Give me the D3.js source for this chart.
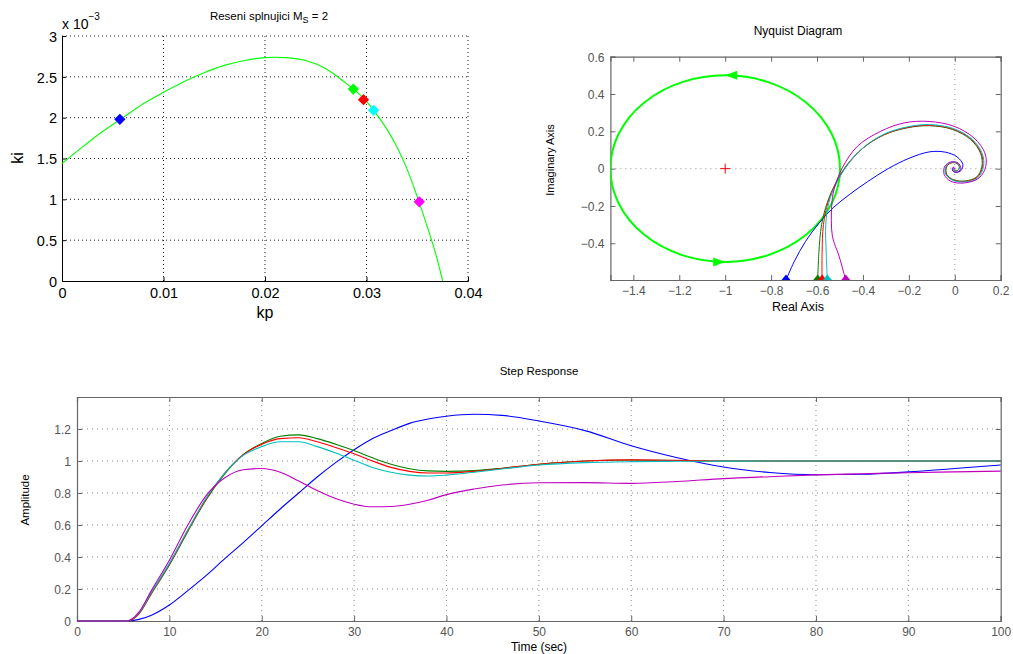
<!DOCTYPE html>
<html>
<head>
<meta charset="utf-8">
<script src="https://cdn.jsdelivr.net/npm/d3@7"></script>
<style>
body { margin: 0; background: #fff; }
text { font-family: "Liberation Sans", Arial, sans-serif; }
</style>
</head>
<body>
<script>
// ---------- data ----------
// top left: kp / ki curve (ki in units of 1e-3)
var kpCurve = [0, 0.002, 0.004, 0.006, 0.008, 0.010, 0.012, 0.014, 0.016, 0.018, 0.020, 0.021, 0.022, 0.024, 0.026, 0.028, 0.029, 0.030, 0.031, 0.032, 0.033, 0.034, 0.035, 0.036, 0.037, 0.0375];
var kiCurve = [1.44, 1.64, 1.83, 2.00, 2.17, 2.31, 2.44, 2.55, 2.64, 2.70, 2.735, 2.74, 2.735, 2.70, 2.60, 2.42, 2.32, 2.20, 2.04, 1.86, 1.64, 1.37, 1.03, 0.66, 0.25, 0];
var kpPts = [0.0057, 0.0287, 0.0297, 0.0307, 0.0352];
var kiPts = [1.98, 2.35, 2.22, 2.09, 0.97];
var ptColors = ["#0000ff", "#00ff00", "#ff0000", "#00ffff", "#ff00ff"];
var kpTicks = [0, 0.01, 0.02, 0.03, 0.04];
var kiTicks = [0, 0.5, 1, 1.5, 2, 2.5, 3];

// nyquist: [re, im]
var nyqBlue = [[-0.735, -0.597], [-0.70, -0.5], [-0.65, -0.39], [-0.59, -0.29], [-0.53, -0.21], [-0.46, -0.14], [-0.38, -0.07], [-0.29, 0.0], [-0.2, 0.055], [-0.11, 0.09], [-0.04, 0.088], [0.01, 0.063], [0.035, 0.022], [0.027, -0.01], [0.006, -0.02], [-0.01, -0.01], [-0.005, 0.005], [0, 0]];
var nyqGreen = [[-0.597, -0.597], [-0.592, -0.45], [-0.58, -0.3], [-0.555, -0.18], [-0.52, -0.08], [-0.47, 0.02], [-0.40, 0.11], [-0.31, 0.18], [-0.21, 0.218], [-0.11, 0.23], [-0.01, 0.21], [0.07, 0.155], [0.113, 0.08], [0.118, 0.01], [0.095, -0.045], [0.045, -0.066], [-0.005, -0.06], [-0.035, -0.03], [-0.036, 0.008], [-0.017, 0.03], [0.01, 0.028], [0.02, 0.005], [0.008, -0.012], [-0.006, -0.006], [0, 0]];
var nyqRed = [[-0.578, -0.597], [-0.578, -0.45], [-0.572, -0.3], [-0.552, -0.18], [-0.518, -0.08], [-0.468, 0.02], [-0.398, 0.112], [-0.308, 0.182], [-0.208, 0.22], [-0.11, 0.232], [-0.008, 0.212], [0.072, 0.157], [0.116, 0.08], [0.121, 0.01], [0.097, -0.047], [0.046, -0.068], [-0.005, -0.062], [-0.037, -0.03], [-0.038, 0.008], [-0.018, 0.031], [0.01, 0.029], [0.021, 0.005], [0.008, -0.012], [-0.006, -0.006], [0, 0]];
var nyqCyan = [[-0.555, -0.597], [-0.56, -0.45], [-0.562, -0.3], [-0.548, -0.18], [-0.516, -0.08], [-0.466, 0.022], [-0.396, 0.115], [-0.306, 0.186], [-0.206, 0.224], [-0.11, 0.236], [-0.006, 0.215], [0.075, 0.158], [0.12, 0.08], [0.125, 0.01], [0.1, -0.05], [0.047, -0.071], [-0.006, -0.064], [-0.039, -0.031], [-0.04, 0.009], [-0.018, 0.033], [0.011, 0.03], [0.022, 0.005], [0.008, -0.013], [-0.006, -0.006], [0, 0]];
var nyqMagenta = [[-0.475, -0.597], [-0.504, -0.469], [-0.533, -0.362], [-0.536, -0.2], [-0.526, -0.112], [-0.49, 0.004], [-0.424, 0.12], [-0.323, 0.2], [-0.221, 0.245], [-0.112, 0.253], [-0.003, 0.227], [0.084, 0.164], [0.131, 0.084], [0.135, 0.012], [0.106, -0.05], [0.041, -0.077], [-0.017, -0.068], [-0.046, -0.032], [-0.044, 0.012], [-0.017, 0.036], [0.015, 0.03], [0.026, 0], [0.009, -0.02], [-0.01, -0.009], [-0.006, 0.009], [0, 0]];
var nyqColors = ["#0000ff", "#008000", "#ff0000", "#00bfbf", "#bf00bf"];
var circleCenter = [-1, 0], circleRadius = 0.5;
var reTicks = [-1.4, -1.2, -1, -0.8, -0.6, -0.4, -0.2, 0, 0.2];
var imTicks = [-0.4, -0.2, 0, 0.2, 0.4, 0.6];

// step responses
var stepT = [0, 5.4, 6.7, 8, 10, 12, 14, 16, 18, 20, 22, 24, 26, 28, 30, 32, 34, 36, 38, 40, 43, 46, 50, 55, 60, 65, 70, 75, 80, 85, 90, 95, 100];
var stepBlue = [0, 0, 0.01, 0.035, 0.1, 0.19, 0.285, 0.39, 0.49, 0.595, 0.7, 0.8, 0.9, 0.99, 1.07, 1.14, 1.19, 1.235, 1.262, 1.28, 1.292, 1.285, 1.25, 1.19, 1.095, 1.02, 0.962, 0.928, 0.914, 0.917, 0.932, 0.953, 0.975];
var stepGreen = [0, 0, 0.045, 0.165, 0.35, 0.56, 0.76, 0.92, 1.04, 1.11, 1.155, 1.163, 1.14, 1.105, 1.065, 1.02, 0.98, 0.952, 0.938, 0.935, 0.94, 0.955, 0.98, 1.0, 1.006, 1.003, 1.0, 1.0, 1.0, 1.0, 1.0, 1.0, 1.0];
var stepRed = [0, 0, 0.045, 0.17, 0.355, 0.565, 0.765, 0.925, 1.04, 1.105, 1.14, 1.145, 1.12, 1.085, 1.045, 1.0, 0.96, 0.935, 0.925, 0.925, 0.935, 0.953, 0.98, 1.0, 1.007, 1.004, 1.0, 1.0, 1.0, 1.0, 1.0, 1.0, 1.0];
var stepCyan = [0, 0, 0.05, 0.175, 0.36, 0.57, 0.77, 0.925, 1.035, 1.09, 1.12, 1.12, 1.09, 1.05, 1.005, 0.96, 0.93, 0.912, 0.906, 0.912, 0.93, 0.95, 0.975, 0.99, 0.996, 0.998, 0.999, 1.0, 1.0, 1.0, 1.0, 1.0, 1.0];
var stepMagenta = [0, 0, 0.055, 0.185, 0.38, 0.6, 0.785, 0.895, 0.945, 0.953, 0.93, 0.875, 0.815, 0.765, 0.73, 0.714, 0.716, 0.73, 0.755, 0.79, 0.825, 0.85, 0.864, 0.865, 0.86, 0.872, 0.89, 0.902, 0.913, 0.92, 0.927, 0.932, 0.937];
var tTicks = [0, 10, 20, 30, 40, 50, 60, 70, 80, 90, 100];
var ampTicks = [0, 0.2, 0.4, 0.6, 0.8, 1, 1.2];

var svg = d3.select("body").append("svg")
    .attr("width", 1013)
    .attr("height", 654);

// ================= top left: kp-ki =================
var x1 = d3.scaleLinear([0, 0.04], [62, 468]);
var y1 = d3.scaleLinear([0, 3], [281, 36]);
var g1 = svg.append("g");

// dotted grid
g1.selectAll(".gx").data(kpTicks.slice(1)).join("line")
    .attr("x1", d => x1(d)).attr("x2", d => x1(d))
    .attr("y1", y1(0)).attr("y2", y1(3))
    .attr("stroke", "#222").attr("stroke-dasharray", "1,3");
g1.selectAll(".gy").data(kiTicks.slice(1)).join("line")
    .attr("x1", x1(0)).attr("x2", x1(0.04))
    .attr("y1", d => y1(d)).attr("y2", d => y1(d))
    .attr("stroke", "#222").attr("stroke-dasharray", "1,3");

var ax1 = g1.append("g").attr("transform", "translate(0," + y1(0) + ")")
    .call(d3.axisBottom(x1).tickValues(kpTicks).tickFormat(d3.format("~g")).tickSize(-4).tickPadding(4));
var ay1 = g1.append("g").attr("transform", "translate(" + x1(0) + ",0)")
    .call(d3.axisLeft(y1).tickValues(kiTicks).tickFormat(d3.format("~g")).tickSize(-4).tickPadding(5));
[ax1, ay1].forEach(function(a) {
    a.select(".domain").attr("stroke", "#000");
    a.selectAll(".tick line").attr("stroke", "#000");
    a.selectAll("text").attr("fill", "#000").style("font-size", "14.5px").style("font-family", "Liberation Sans, Arial, sans-serif");
});
ax1.selectAll("text").attr("dy", "0.9em");
ay1.selectAll("text").attr("dy", "0.36em");

g1.append("path")
    .datum(d3.zip(kpCurve, kiCurve))
    .attr("fill", "none").attr("stroke", "#00ff00").attr("stroke-width", 1.1)
    .attr("d", d3.line().x(d => x1(d[0])).y(d => y1(d[1])).curve(d3.curveMonotoneX));

g1.selectAll(".pt").data(d3.range(kpPts.length)).join("path")
    .attr("transform", i => "translate(" + x1(kpPts[i]) + "," + y1(kiPts[i]) + ") rotate(45)")
    .attr("d", d3.symbol(d3.symbolSquare, 64))
    .attr("fill", i => ptColors[i]);

var t1 = g1.append("text").attr("x", 269).attr("y", 20).attr("text-anchor", "middle").style("font-size", "11.5px");
t1.append("tspan").text("Reseni splnujici M");
t1.append("tspan").attr("dy", 3).style("font-size", "9px").text("S");
t1.append("tspan").attr("dy", -3).text(" = 2");

var ex = g1.append("text").attr("x", 62).attr("y", 29).style("font-size", "14px");
ex.append("tspan").text("x 10");
ex.append("tspan").attr("dy", -9).style("font-size", "10px").text("\u22123");

g1.append("text").attr("x", 265).attr("y", 318).attr("text-anchor", "middle").style("font-size", "16px").text("kp");
g1.append("text").attr("transform", "translate(23,158) rotate(-90)").attr("text-anchor", "middle").style("font-size", "16px").text("ki");

// ================= top right: Nyquist =================
var xN = d3.scaleLinear([-1.5, 0.2], [610.4, 1000.7]);
var yN = d3.scaleLinear([-0.597, 0.6], [280, 56.7]);
var gN = svg.append("g");
var greyAx = "#666", greyTx = "#555";

gN.append("clipPath").attr("id", "clipN").append("rect")
    .attr("x", xN(-1.5)).attr("y", yN(0.6))
    .attr("width", xN(0.2) - xN(-1.5)).attr("height", yN(-0.597) - yN(0.6));

// zero lines
gN.append("line").attr("x1", xN(0)).attr("x2", xN(0)).attr("y1", yN(-0.597)).attr("y2", yN(0.6))
    .attr("stroke", "#999").attr("stroke-dasharray", "1,4");
gN.append("line").attr("x1", xN(-1.5)).attr("x2", xN(0.2)).attr("y1", yN(0)).attr("y2", yN(0))
    .attr("stroke", "#999").attr("stroke-dasharray", "1,4");

function boxAxes(g, x, y, xt, yt, xd, yd, fmt) {
    var b = g.append("g").attr("transform", "translate(0," + y(yd[0]) + ")")
        .call(d3.axisBottom(x).tickValues(xt).tickFormat(fmt).tickSize(-5).tickPadding(4));
    var t = g.append("g").attr("transform", "translate(0," + y(yd[1]) + ")")
        .call(d3.axisTop(x).tickValues(xt).tickFormat("").tickSize(-5));
    var l = g.append("g").attr("transform", "translate(" + x(xd[0]) + ",0)")
        .call(d3.axisLeft(y).tickValues(yt).tickFormat(fmt).tickSize(-5).tickPadding(6));
    var r = g.append("g").attr("transform", "translate(" + x(xd[1]) + ",0)")
        .call(d3.axisRight(y).tickValues(yt).tickFormat("").tickSize(-5));
    [b, t, l, r].forEach(function(a) {
        a.select(".domain").attr("stroke", greyAx).attr("stroke-width", 1.2);
        a.selectAll(".tick line").attr("stroke", greyAx);
        a.selectAll("text").attr("fill", greyTx).style("font-size", "12px").style("font-family", "Liberation Sans, Arial, sans-serif");
    });
    b.selectAll("text").attr("dy", "0.9em");
    l.selectAll("text").attr("dy", "0.36em");
}
boxAxes(gN, xN, yN, reTicks, imTicks, [-1.5, 0.2], [-0.597, 0.6], d3.format("~g"));

var cN = gN.append("g").attr("clip-path", "url(#clipN)");
// Ms circle
cN.append("ellipse")
    .attr("cx", xN(circleCenter[0])).attr("cy", yN(circleCenter[1]))
    .attr("rx", xN(circleCenter[0] + circleRadius) - xN(circleCenter[0]))
    .attr("ry", yN(circleCenter[1]) - yN(circleCenter[1] + circleRadius))
    .attr("fill", "none").attr("stroke", "#00ff00").attr("stroke-width", 2);
// circle arrows (top -> left, bottom -> right)
[[circleCenter[0], circleCenter[1] + circleRadius, 180], [circleCenter[0], circleCenter[1] - circleRadius, 0]].forEach(function(a) {
    cN.append("path")
        .attr("transform", "translate(" + xN(a[0]) + "," + yN(a[1]) + ") rotate(" + a[2] + ")")
        .attr("d", "M0,0 L-12,-4.5 L-12,4.5 Z")
        .attr("fill", "#00ff00");
});

var nyqSeries = [nyqBlue, nyqGreen, nyqRed, nyqCyan, nyqMagenta];
var lineN = d3.line().x(d => xN(d[0])).y(d => yN(d[1])).curve(d3.curveCatmullRom.alpha(0.5));
nyqSeries.forEach(function(s, i) {
    cN.append("path").datum(s)
        .attr("fill", "none").attr("stroke", nyqColors[i]).attr("stroke-width", 1)
        .attr("d", lineN);
    cN.append("path")
        .attr("transform", "translate(" + xN(s[0][0]) + "," + (yN(s[0][1]) - 1.5) + ")")
        .attr("d", "M0,-4 L-4.5,1.5 L4.5,1.5 Z")
        .attr("fill", nyqColors[i]);
});
// critical point
cN.append("path")
    .attr("transform", "translate(" + xN(-1) + "," + yN(0) + ")")
    .attr("d", "M-5,0 L5,0 M0,-5 L0,5")
    .attr("stroke", "#ff0000").attr("stroke-width", 1);

gN.append("text").attr("x", 798).attr("y", 35).attr("text-anchor", "middle").style("font-size", "12px").text("Nyquist Diagram");
gN.append("text").attr("x", 798).attr("y", 311).attr("text-anchor", "middle").style("font-size", "12.5px").text("Real Axis");
gN.append("text").attr("transform", "translate(554,160) rotate(-90)").attr("text-anchor", "middle").style("font-size", "11px").text("Imaginary Axis");

// ================= bottom: step response =================
var xS = d3.scaleLinear([0, 100], [77, 1000.7]);
var yS = d3.scaleLinear([0, 1.4], [621, 397]);
var gS = svg.append("g");

gS.selectAll(".gx").data(tTicks.slice(1, -1)).join("line")
    .attr("x1", d => xS(d)).attr("x2", d => xS(d))
    .attr("y1", yS(0)).attr("y2", yS(1.4))
    .attr("stroke", "#888").attr("stroke-dasharray", "1,4");
gS.selectAll(".gy").data(ampTicks.slice(1)).join("line")
    .attr("x1", xS(0)).attr("x2", xS(100))
    .attr("y1", d => yS(d)).attr("y2", d => yS(d))
    .attr("stroke", "#888").attr("stroke-dasharray", "1,4");

boxAxes(gS, xS, yS, tTicks, ampTicks, [0, 100], [0, 1.4], d3.format("~g"));

var stepSeries = [stepBlue, stepGreen, stepRed, stepCyan, stepMagenta];
var lineS = d3.line().x(d => xS(d[0])).y(d => yS(d[1])).curve(d3.curveMonotoneX);
stepSeries.forEach(function(s, i) {
    gS.append("path").datum(d3.zip(stepT, s))
        .attr("fill", "none").attr("stroke", nyqColors[i]).attr("stroke-width", 1.1)
        .attr("d", lineS);
});

gS.append("text").attr("x", 539).attr("y", 375).attr("text-anchor", "middle").style("font-size", "11.5px").text("Step Response");
gS.append("text").attr("x", 539).attr("y", 651).attr("text-anchor", "middle").style("font-size", "12px").text("Time (sec)");
gS.append("text").attr("transform", "translate(29,500) rotate(-90)").attr("text-anchor", "middle").style("font-size", "11.5px").text("Amplitude");
</script>
</body>
</html>
